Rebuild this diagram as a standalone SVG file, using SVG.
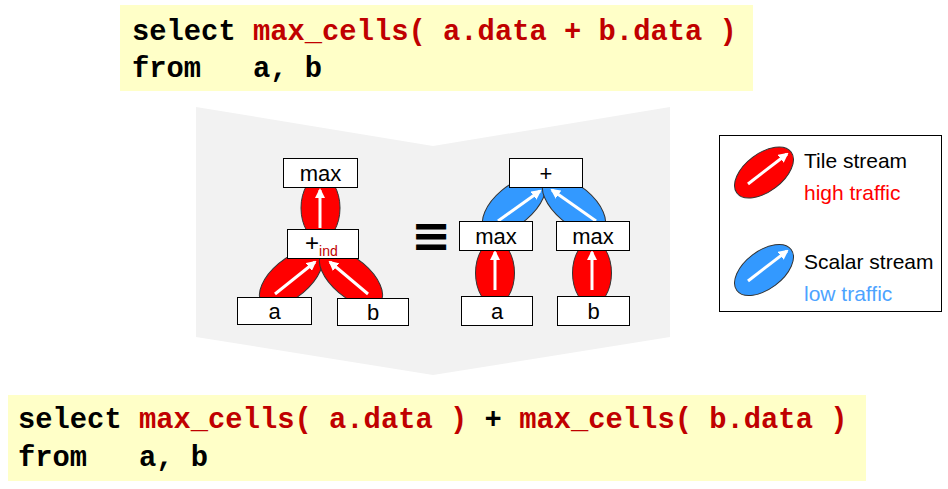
<svg xmlns="http://www.w3.org/2000/svg" width="948" height="489" viewBox="0 0 948 489">
<style>
.code{font-family:"Liberation Mono","Courier New",monospace;font-weight:bold;fill:#000}
.kw{fill:#c00000}
.box{fill:#fff;stroke:#000;stroke-width:1}
.lbl{font-family:"Liberation Sans",Arial,sans-serif;font-size:22px;fill:#000;text-anchor:middle}
.tile{fill:#ff0000;stroke:#333;stroke-width:1}
.scalar{fill:#3399ff;stroke:#333;stroke-width:1}
.arr{stroke:#fff;stroke-width:3;fill:none;marker-end:url(#ah)}
.leg{font-family:"Liberation Sans",Arial,sans-serif;font-size:21px}
</style>
<defs>
<marker id="ah" markerUnits="userSpaceOnUse" viewBox="0 0 10 10" refX="8" refY="5" markerWidth="10" markerHeight="10" orient="auto">
<path d="M0,0 L10,5 L0,10 z" fill="#fff"/>
</marker>
</defs>
<rect width="948" height="489" fill="#fff"/>
<g id="query-top">
<rect x="120" y="5" width="633" height="86" fill="#ffffc8"/>
<text class="code" font-size="28.8" x="132" y="40">select <tspan class="kw">max_cells( a.data + b.data )</tspan></text>
<text class="code" font-size="28.8" x="132" y="77" xml:space="preserve">from   a, b</text>
</g>
<polygon id="transform" points="196,107 433,146 670,107 670,337 433,375 196,337" fill="#f2f2f2"/>
<g id="connectors">
<ellipse class="tile" cx="320.5" cy="208" rx="19.5" ry="32"/>
<ellipse class="tile" cx="291" cy="278" rx="38" ry="19" transform="rotate(-40 291 278)"/>
<ellipse class="tile" cx="351" cy="278" rx="38" ry="19" transform="rotate(40 351 278)"/>
<line class="arr" x1="320" y1="228" x2="320" y2="190"/>
<line class="arr" x1="275" y1="294" x2="315" y2="262"/>
<line class="arr" x1="368" y1="294" x2="330" y2="262"/>
<ellipse class="tile" cx="495" cy="273" rx="19.5" ry="32"/>
<ellipse class="tile" cx="592" cy="273" rx="19.5" ry="32"/>
<ellipse class="scalar" cx="514" cy="205" rx="38" ry="19" transform="rotate(-40 514 205)"/>
<ellipse class="scalar" cx="574" cy="205" rx="38" ry="19" transform="rotate(40 574 205)"/>
<line class="arr" x1="495" y1="290" x2="495" y2="252"/>
<line class="arr" x1="592" y1="290" x2="592" y2="252"/>
<line class="arr" x1="498" y1="221" x2="540" y2="191"/>
<line class="arr" x1="596" y1="221" x2="552" y2="190"/>
</g>
<g id="l-max"><rect class="box" x="283.5" y="158.5" width="74" height="29"/><text class="lbl" x="320.5" y="181">max</text></g>
<g id="l-plus"><rect class="box" x="287.5" y="229.5" width="71" height="29"/><text x="305" y="251" font-family="Liberation Sans,Arial,sans-serif" font-size="24">+<tspan font-size="14" fill="#c00000" dy="5">ind</tspan></text></g>
<g id="l-a"><rect class="box" x="237.5" y="297.5" width="74" height="27"/><text class="lbl" x="274.5" y="319">a</text></g>
<g id="l-b"><rect class="box" x="337.5" y="298.5" width="71" height="27"/><text class="lbl" x="373" y="320">b</text></g>
<text id="equiv" x="431" y="252" font-family="DejaVu Sans,sans-serif" font-size="48" font-weight="bold" text-anchor="middle">≡</text>
<g id="r-plus"><rect class="box" x="509.5" y="158.5" width="73" height="29"/><text class="lbl" x="546" y="181">+</text></g>
<g id="r-max1"><rect class="box" x="459.5" y="221.5" width="73" height="29"/><text class="lbl" x="496" y="244">max</text></g>
<g id="r-max2"><rect class="box" x="556.5" y="221.5" width="73" height="29"/><text class="lbl" x="593" y="244">max</text></g>
<g id="r-a"><rect class="box" x="461.5" y="296.5" width="71" height="29"/><text class="lbl" x="497" y="319">a</text></g>
<g id="r-b"><rect class="box" x="557.5" y="296.5" width="72" height="29"/><text class="lbl" x="593.5" y="319">b</text></g>
<g id="legend">
<rect x="719.5" y="135.5" width="222" height="176" fill="#fff" stroke="#000" stroke-width="1"/>
<ellipse class="tile" cx="764" cy="172.5" rx="34" ry="19" transform="rotate(-37 764 172.5)"/>
<line class="arr" x1="748" y1="184" x2="787" y2="154"/>
<ellipse class="scalar" cx="764" cy="270" rx="34" ry="19" transform="rotate(-37 764 270)"/>
<line class="arr" x1="748" y1="281" x2="787" y2="251"/>
<text class="leg" x="804" y="168" fill="#000">Tile stream</text>
<text class="leg" x="804" y="200" fill="#ff0000">high traffic</text>
<text class="leg" x="804" y="269" fill="#000">Scalar stream</text>
<text class="leg" x="804" y="301" fill="#4da3ff">low traffic</text>
</g>
<g id="query-bottom">
<rect x="8" y="395" width="858" height="86" fill="#ffffc8"/>
<text class="code" font-size="28.8" x="18" y="428">select <tspan class="kw">max_cells( a.data )</tspan> + <tspan class="kw">max_cells( b.data )</tspan></text>
<text class="code" font-size="28.8" x="18" y="466" xml:space="preserve">from   a, b</text>
</g>
</svg>
